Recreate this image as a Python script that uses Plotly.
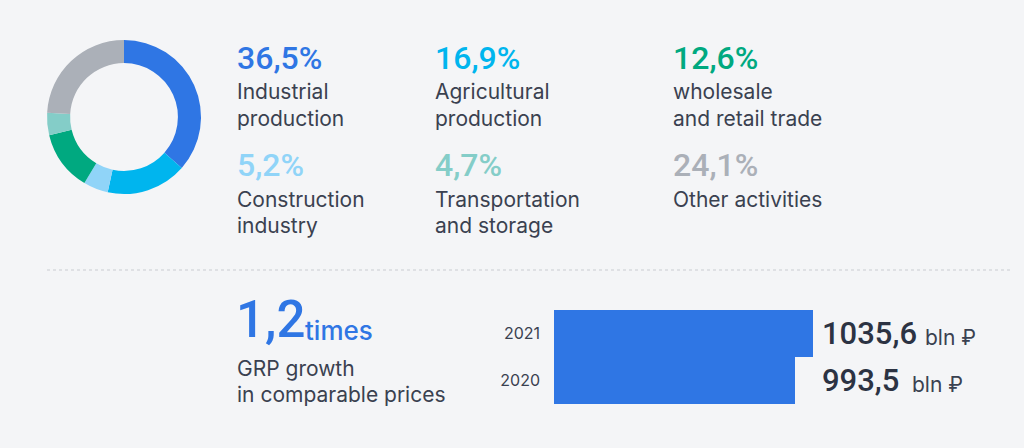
import plotly.graph_objects as go

W = 1024
H = 448

# donut
shares = [36.5, 16.9, 5.2, 12.6, 4.7, 24.1]
share_labels = ["36,5%", "16,9%", "5,2%", "12,6%", "4,7%", "24,1%"]
share_names = ["Industrial<br>production", "Agricultural<br>production", "Construction<br>industry",
               "wholesale<br>and retail trade", "Transportation<br>and storage", "Other activities"]
share_colors = ["#2f76e4", "#00b5ee", "#90d4f8", "#00a980", "#84cdc8", "#abb0b8"]

# bars
years = ["2020", "2021"]
grp = [993.5, 1035.6]
grp_labels = ["993,5", "1035,6"]
grp_unit = "bln ₽"

growth = "1,2"
growth_unit = "times"
growth_text = "GRP growth<br>in comparable prices"

BG = "#f4f5f7"
BLUE = "#2f76e4"
DARK = "#2c3343"
TEXT = "#3a4150"
NUM_FONT = "Roboto"
TXT_FONT = "Inter"
LINE_STEP = 26


def px_x(x):
    return x / W


def px_y(y):
    return 1 - y / H


def note(x, y, text, size, color, family=TXT_FONT, weight=400):
    return dict(x=px_x(x), y=px_y(y), xref="paper", yref="paper", text=text, showarrow=False,
                xanchor="left", yanchor="middle", align="left", xshift=-2,
                font=dict(size=size, color=color, family=family, weight=weight))


def text_lines(x, y, text):
    # line by line, the default line height is too tall for this size
    return [note(x, y + LINE_STEP * j, line, 21, TEXT) for j, line in enumerate(text.split("<br>"))]


fig = go.Figure()

fig.add_trace(go.Pie(values=shares, labels=share_names, marker=dict(colors=share_colors, line_width=0),
                     hole=0.70, sort=False, direction="clockwise", rotation=0,
                     textinfo="none", showlegend=False,
                     domain=dict(x=[px_x(47), px_x(201)], y=[px_y(194), px_y(40)])))

fig.add_trace(go.Bar(x=grp, y=years, orientation="h", marker=dict(color=BLUE, line_width=0),
                     showlegend=False))

# text blocks, same order as shares
blocks = [(237, 58, 92), (435, 58, 92), (237, 165, 199), (673, 58, 92), (435, 165, 199), (673, 165, 199)]
notes = []
for i, (x, y_num, y_name) in enumerate(blocks):
    notes.append(note(x, y_num, share_labels[i], 32, share_colors[i], NUM_FONT, 500))
    notes += text_lines(x, y_name, share_names[i])

notes.append(note(236, 319, growth, 51, BLUE, NUM_FONT, 500))
notes.append(note(305, 330, growth_unit, 26, BLUE, TXT_FONT, 500))
notes += text_lines(237, 368, growth_text)

notes.append(note(822, 333, grp_labels[1], 31, DARK, NUM_FONT, 500))
notes.append(note(925, 337, grp_unit, 21, TEXT))
notes.append(note(822, 380, grp_labels[0], 31, DARK, NUM_FONT, 500))
notes.append(note(912, 384, grp_unit, 21, TEXT))

fig.update_layout(
    width=W, height=H, autosize=False,
    margin=dict(l=0, r=0, t=0, b=0),
    paper_bgcolor=BG, plot_bgcolor=BG,
    bargap=0,
    annotations=notes,
    shapes=[dict(type="line", xref="paper", yref="paper", x0=px_x(47), x1=px_x(1010),
                 y0=px_y(270), y1=px_y(270), line=dict(color="#c9ccd1", width=1, dash="dot"))],
    xaxis=dict(domain=[px_x(554), px_x(813)], range=[431.3, 1035.6], visible=False),
    yaxis=dict(domain=[px_y(404), px_y(310)], type="category", categoryorder="array", categoryarray=years,
               showgrid=False, zeroline=False, showline=False, ticks="", ticklabelstandoff=13,
               tickfont=dict(size=16, color=TEXT, family=TXT_FONT)),
)

# the page has a default body margin, drop it so the chart sits at 0,0
fig.write_html("out.html", config={"displayModeBar": False},
               post_script="document.body.style.margin='0';document.body.style.background='%s';" % BG)
